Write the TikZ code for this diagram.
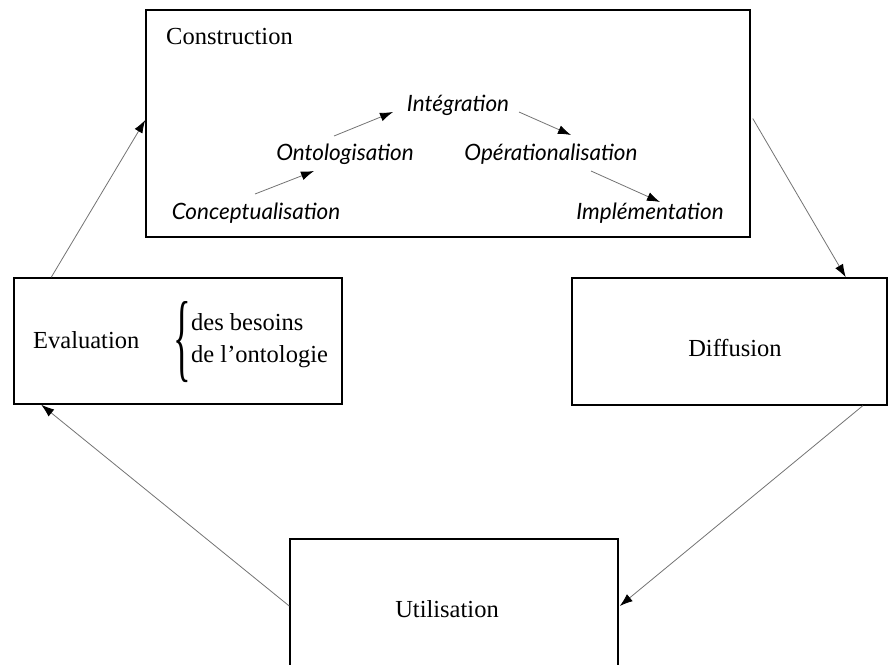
\documentclass[tikz,border=0pt]{standalone}
\usepackage{fontspec}
\setmainfont{Liberation Serif}
\newfontfamily\itfont{Lato}
\usetikzlibrary{arrows.meta,calc}
\begin{document}
\begin{tikzpicture}[x=1pt,y=-1pt,
  box/.style={draw=black,line width=1.5pt,rectangle,inner sep=0pt},
  lab/.style={inner sep=0pt,font=\fontsize{24.5}{32}\selectfont},
  phase/.style={inner sep=0pt,font=\itfont\itshape\fontsize{22.5}{26}\selectfont},
  conn/.style={draw=black!55,line width=0.8pt,-{Latex[length=13pt,width=9pt,color=black]}}]
\useasboundingbox (0,0) rectangle (890,664);
\clip (0,0) rectangle (890,664);
% boxes
\node[box,minimum width=604pt,minimum height=227pt] (cons) at (448,123.5) {};
\node[box,minimum width=328pt,minimum height=126pt] (eval) at (178,341) {};
\node[box,minimum width=315pt,minimum height=127pt] (diff) at (729.5,341.5) {};
\node[box,minimum width=328pt,minimum height=140pt] (util) at (454,609) {};
% labels
\node[lab,anchor=west] (conslab) at (166,37) {Construction};
\node[lab,anchor=west] (evallab) at (33,340) {Evaluation};
\node[inner sep=0pt,anchor=east] (brace) at (191,342) {\scalebox{1.5}[4]{\fontsize{24.5}{26}\selectfont\{}};
\node[lab,anchor=west,align=left] (evallist) at (191,341) {des besoins\\de l’ontologie};
\node[lab] (difflab) at (735,348) {Diffusion};
\node[lab] (utillab) at (447,609) {Utilisation};
% phases
\node[phase] (conc) at (256,213) {Conceptualisation};
\node[phase] (onto) at (345,154) {Ontologisation};
\node[phase] (integ) at (458,105) {Intégration};
\node[phase] (oper) at (551,154) {Opérationalisation};
\node[phase] (impl) at (650,213) {Implémentation};
% inner arrows
\draw[conn] ($(conc)+(-1,-19)$) -- ($(onto)+(-31,17)$);
\draw[conn] ($(onto)+(-11,-18)$) -- ($(integ)+(-65,7)$);
\draw[conn] ($(integ)+(61,7)$) -- ($(oper)+(20,-19)$);
\draw[conn] ($(oper)+(40,17)$) -- ($(impl)+(10,-11)$);
% outer arrows
\draw[conn] ($(eval.north west)+(38,0)$) -- ($(cons.west)+(0,-3.5)$);
\draw[conn] ($(cons.east)+(2,-5)$) -- ($(diff.north east)+(-42,0)$);
\draw[conn] ($(diff.south east)+(-25,0)$) -- ($(util.east)+(1,-3)$);
\draw[conn] ($(util.west)+(0,-3)$) -- ($(eval.south west)+(28,0)$);
\end{tikzpicture}
\end{document}
